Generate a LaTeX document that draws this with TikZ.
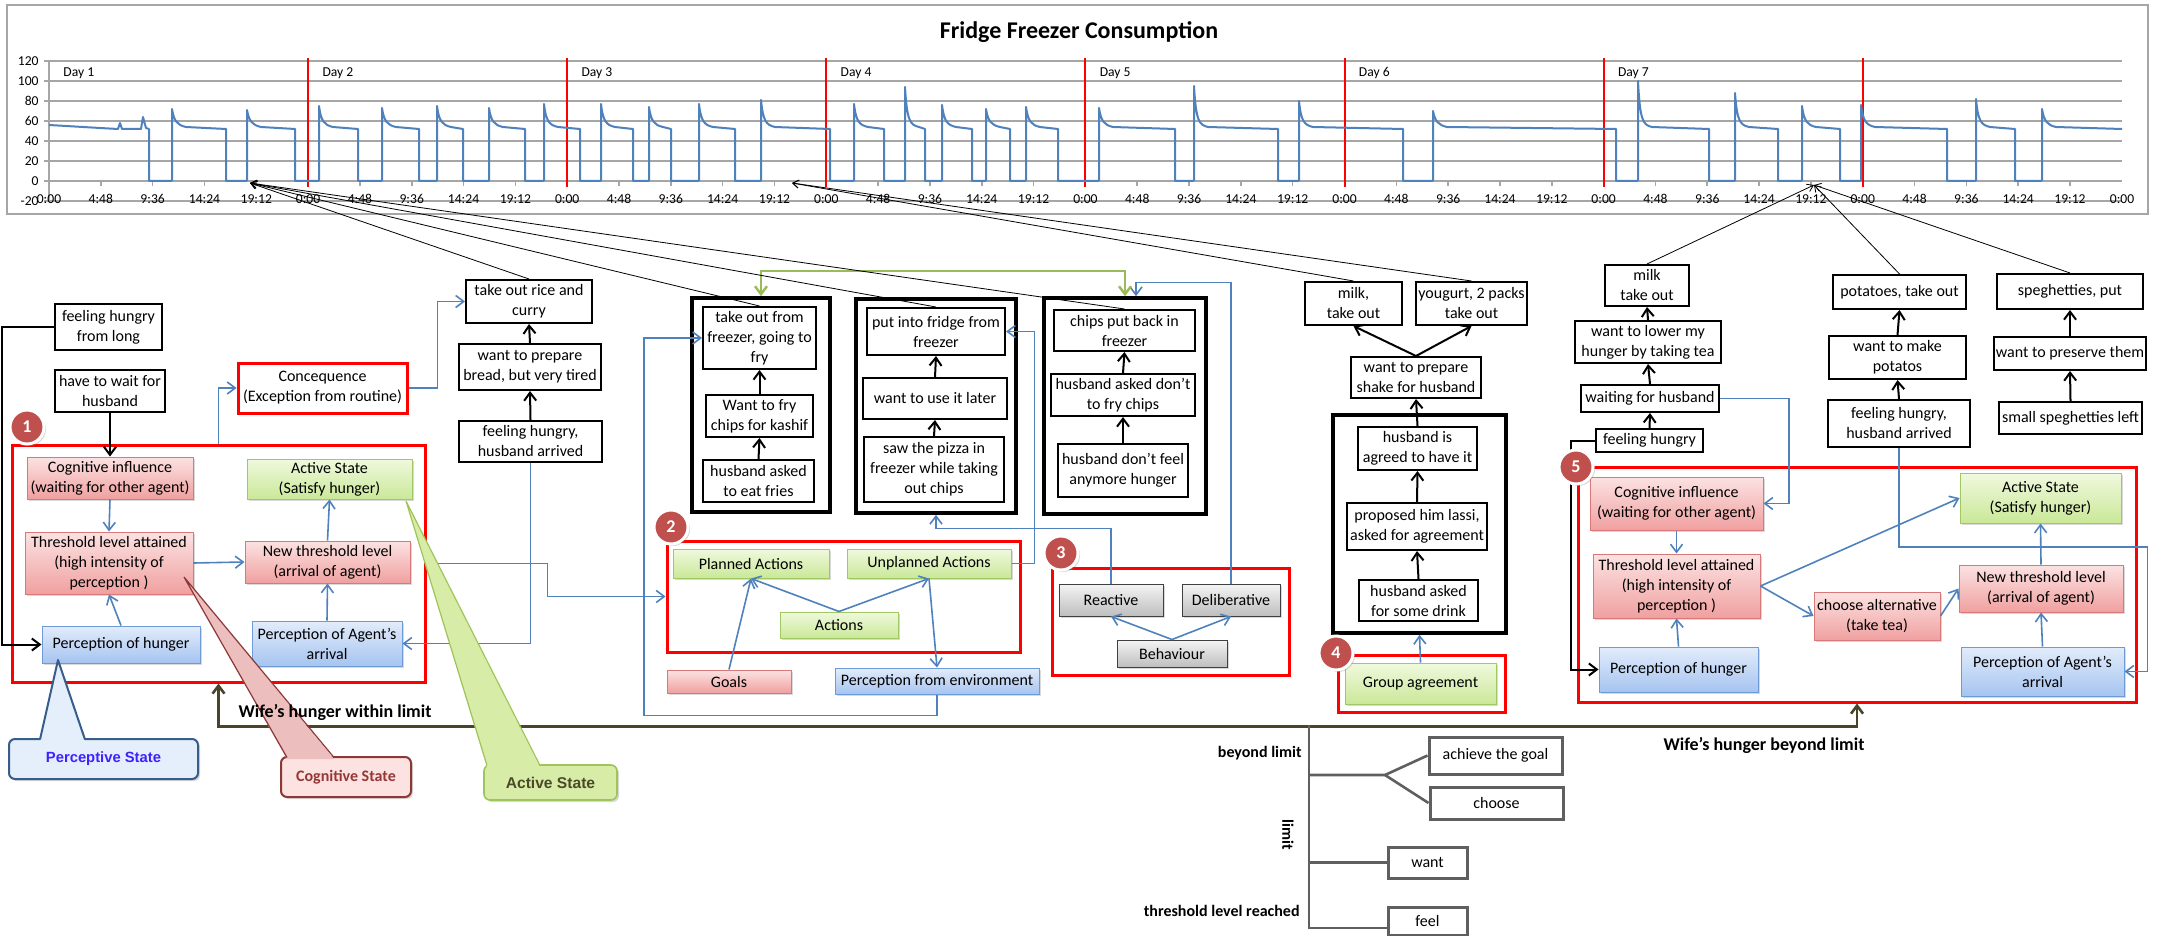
\documentclass[tikz,border=0pt]{standalone}
\usepackage{fontspec}
\setmainfont{Carlito}
\newfontfamily\arialf{Liberation Sans}
\usetikzlibrary{arrows.meta,calc,shadows}

\definecolor{lnblue}{RGB}{79,129,189}
\definecolor{plotblue}{RGB}{79,129,189}
\definecolor{gridgray}{RGB}{166,166,166}
\definecolor{badgered}{RGB}{192,80,77}
\definecolor{pinktop}{RGB}{252,226,226}
\definecolor{pinkbot}{RGB}{240,160,160}
\definecolor{pinkln}{RGB}{217,120,120}
\definecolor{greentop}{RGB}{240,249,222}
\definecolor{greenbot}{RGB}{202,232,152}
\definecolor{greenln}{RGB}{160,200,100}
\definecolor{bluetop}{RGB}{226,236,251}
\definecolor{bluebot}{RGB}{166,196,240}
\definecolor{blueln}{RGB}{110,154,214}
\definecolor{graytop}{RGB}{244,244,244}
\definecolor{graybot}{RGB}{190,190,190}
\definecolor{brownln}{RGB}{74,69,42}
\definecolor{treegray}{RGB}{95,95,95}
\definecolor{linkgreen}{RGB}{155,187,89}
\definecolor{pstfill}{RGB}{228,239,251}
\definecolor{pstline}{RGB}{56,93,138}
\definecolor{psttext}{RGB}{64,32,255}
\definecolor{cstfill}{RGB}{253,226,226}
\definecolor{cstline}{RGB}{140,56,54}
\definecolor{csttext}{RGB}{149,55,53}
\definecolor{cstptr}{RGB}{236,190,190}
\definecolor{astfill}{RGB}{215,236,166}
\definecolor{astline}{RGB}{160,196,90}
\definecolor{asttext}{RGB}{74,74,40}

\tikzset{
  wh/.style 2 args={minimum width=#1*.5pt,minimum height=#2*.5pt},
  shd/.style={drop shadow={opacity=.3,shadow xshift=1pt,shadow yshift=-1pt}},
  box/.style={draw,line width=1pt,fill=white,align=center,inner sep=1pt},
  grpbox/.style={draw,line width=1.8pt},
  redbox/.style={draw=red,line width=1.5pt},
  pinkbox/.style={draw=pinkln,line width=.5pt,top color=pinktop,bottom color=pinkbot,align=center,inner sep=1pt,shd},
  greenbox/.style={draw=greenln,line width=.5pt,top color=greentop,bottom color=greenbot,align=center,inner sep=1pt,shd},
  bluebox/.style={draw=blueln,line width=.5pt,top color=bluetop,bottom color=bluebot,align=center,inner sep=1pt,shd},
  graybox/.style={draw=black!75,line width=.5pt,top color=graytop,bottom color=graybot,align=center,inner sep=1pt,shd},
  badge/.style={circle,fill=badgered,draw=white,line width=1.5pt,text=white,font=\bfseries\fontsize{9}{10}\selectfont,minimum size=17pt,inner sep=0pt,shd},
  arr/.style={->,line width=1pt},
  bl/.style={draw=lnblue,line width=.8pt},
  ptr/.style={>={Straight Barb[length=3pt,width=4pt]},->,line width=.4pt},
  axlab/.style={font=\fontsize{6.8}{8}\selectfont,inner sep=0pt},
  loadline/.style={draw=plotblue,line width=1pt,line join=round},
  lbl/.style={font=\bfseries\fontsize{9}{11}\selectfont},
  treelbl/.style={font=\bfseries\fontsize{8}{9}\selectfont,inner sep=1pt},
  treebox/.style={draw=treegray,line width=1.5pt,fill=white,inner sep=1pt,shd},
  tree/.style={draw=treegray,line width=1.3pt},
}

\begin{document}
\begin{tikzpicture}[x=.5pt,y=-.5pt,font=\fontsize{8}{10}\selectfont,>={Straight Barb[length=4pt,width=6pt]}]
\useasboundingbox (0,0) rectangle (2161,936);

% chart
\draw[gridgray,fill=white,line width=.6pt] (7,5) rectangle (2148,214);
\node[font=\bfseries\fontsize{12}{14}\selectfont] (title) at (1079,32) {Fridge Freezer Consumption};
\foreach \v in {-20,0,...,120}{
  \draw[gridgray,line width=.8pt] (44,181-\v) -- (2122,181-\v);
  \node[axlab,anchor=east] (yl\v) at (39,181-\v) {\v};
}
\draw[gridgray,line width=.8pt] (49,61) -- (49,201);
\foreach \d in {0,...,7}{
  \foreach \k/\lab in {0/0:00,1/4:48,2/9:36,3/14:24,4/19:12}{
    \draw[gridgray,line width=.8pt] ({49+259.1*(\d+\k/5)},181) -- ++(0,5);
    \node[axlab] (xl\d\k) at ({49+259.1*(\d+\k/5)},199) {\lab};
  }
}
\node[axlab] (xlend) at (2122,199) {0:00};
\foreach \d in {1,...,7}{
  \draw[red,line width=1pt] ({49+259.1*\d},58) -- ++(0,129);
  \node[axlab,anchor=west] (day\d) at ({49+259.1*(\d-1)+14},73) {Day \d};
}
% load trace
\draw[loadline] (49,125) -- (100,128) -- (118,129) -- (120,123) -- (122,129) -- (141,129) -- (143,117) -- (146,128) -- (149,129) -- (149,181) -- (172,181);
\foreach \on/\pk/\off/\nxt in {172/72/226/247,247/71/295/319,319/75/358/382,382/73/419/437,437/75/463/489,489/73/525/544,544/77/580/601,601/77/633/649,649/74/671/699,699/77/735/761,761/81/830/854,854/77/884/905,905/94/925/942,942/76/972/986,986/72/1010/1026,1026/74/1058/1099,1099/73/1175/1194,1194/95/1278/1299,1299/80/1403/1433,1433/70/1616/1638,1638/100/1709/1735,1735/88/1778/1802,1802/75/1840/1861,1861/76/1947/1976,1976/82/2015/2042}
  \draw[loadline] (\on,181) -- (\on,181-\pk) .. controls (\on+2,121) and (\on+5,125) .. (\on+14,127) -- (\off,129) -- (\off,181) -- (\nxt,181);
\draw[loadline] (2042,181) -- (2042,109) .. controls (2044,121) and (2047,125) .. (2056,127) -- (2122,129);

% state 1
\node[redbox,wh={413}{237}] (redA) at (218.5,563.5) {};
\node[pinkbox,wh={166}{42}] (cogA) at (110,478) {Cognitive influence\\(waiting for other agent)};
\node[pinkbox,wh={168}{62}] (thrA) at (109,563) {Threshold level attained\\(high intensity of\\perception )};
\node[bluebox,wh={158}{37}] (perHunA) at (121,644.5) {Perception of hunger};
\node[greenbox,wh={165}{40}] (actA) at (329.5,479) {Active State\\(Satisfy hunger)};
\node[pinkbox,wh={165}{42}] (newThrA) at (327.5,562) {New threshold level\\(arrival of agent)};
\node[bluebox,wh={150}{45}] (perAgA) at (327,643.5) {Perception of Agent's\\arrival};
\node[box,wh={107}{46}] (hungLong) at (108.5,327) {feeling hungry\\from long};
\node[box,wh={110}{42}] (waitHus) at (110,391) {have to wait for\\husband};
\node[box,redbox,wh={169}{50}] (conseq) at (322.5,388) {Concequence\\(Exception from routine)};
\node[box,wh={126}{43}] (riceOut) at (529,301.5) {take out rice and\\curry};
\node[box,wh={142}{46}] (breadWant) at (530,367) {want to prepare\\bread, but very tired};
\node[box,wh={143}{41}] (hungArrA) at (530.5,441.5) {feeling hungry,\\husband arrived};

% actions and behaviour
\node[grpbox,wh={138}{214}] (grpA) at (761,405) {};
\node[grpbox,wh={160}{214}] (grpB) at (936,406) {};
\node[grpbox,wh={162}{216}] (grpC) at (1125,406) {};
\node[box,wh={113}{62}] (frzOut) at (759.5,338) {take out from\\freezer, going to\\fry};
\node[box,wh={107}{42}] (fryWant) at (759.5,416) {Want to fry\\chips for kashif};
\node[box,wh={111}{42}] (friesAsk) at (758.5,481) {husband asked\\to eat fries};
\node[box,wh={138}{47}] (fridgePut) at (936,331.5) {put into fridge from\\freezer};
\node[box,wh={144}{41}] (laterWant) at (935,398.5) {want to use it later};
\node[box,wh={140}{65}] (pizzaSaw) at (934,469.5) {saw the pizza in\\freezer while taking\\out chips};
\node[box,wh={141}{41}] (chipsBack) at (1124.5,330.5) {chips put back in\\freezer};
\node[box,wh={144}{42}] (chipsAsk) at (1123,395) {husband asked don't\\to fry chips};
\node[box,wh={130}{53}] (hungNo) at (1123,470.5) {husband don't feel\\anymore hunger};
\node[redbox,wh={353}{111}] (redB) at (843.5,596.5) {};
\node[greenbox,wh={156}{29}] (planAct) at (751,563.5) {Planned Actions};
\node[greenbox,wh={164}{29}] (unplanAct) at (929,563.5) {Unplanned Actions};
\node[greenbox,wh={118}{26}] (actions) at (839,625) {Actions};
\node[pinkbox,wh={124}{23}] (goals) at (729,681.5) {Goals};
\node[bluebox,wh={204}{26}] (perEnv) at (937,681) {Perception from environment};
\node[redbox,wh={237}{107}] (redC) at (1170.5,621.5) {};
\node[graybox,wh={104}{32}] (reactive) at (1111,600) {Reactive};
\node[graybox,wh={98}{32}] (deliber) at (1231,600) {Deliberative};
\node[graybox,wh={110}{27}] (behav) at (1172,653.5) {Behaviour};

% group agreement
\node[box,wh={97}{43}] (milkA) at (1353.5,303.5) {milk,\\take out};
\node[box,wh={109}{43}] (yogurt) at (1471.5,303.5) {yougurt, 2 packs\\take out};
\node[box,wh={130}{41}] (shakeWant) at (1416,377.5) {want to prepare\\shake for husband};
\node[grpbox,wh={173}{218}] (grpD) at (1419.5,524) {};
\node[box,wh={119}{43}] (agreed) at (1417.5,448.5) {husband is\\agreed to have it};
\node[box,wh={140}{47}] (lassi) at (1417,526.5) {proposed him lassi,\\asked for agreement};
\node[box,wh={119}{41}] (drinkAsk) at (1418.5,600.5) {husband asked\\for some drink};
\node[redbox,wh={167}{57}] (redD) at (1421.5,683.5) {};
\node[greenbox,wh={151}{41}] (grpAgr) at (1420.5,683.5) {Group agreement};

% state 5
\node[box,wh={84}{41}] (milkB) at (1647,285.5) {milk\\take out};
\node[box,wh={146}{42}] (teaWant) at (1648,342) {want to lower my\\hunger by taking tea};
\node[box,wh={138}{27}] (waitB) at (1650,398.5) {waiting for husband};
\node[box,wh={107}{23}] (hungB) at (1649.5,440.5) {feeling hungry};
\node[box,wh={133}{34}] (potOut) at (1899.5,292) {potatoes, take out};
\node[box,wh={137}{43}] (potWant) at (1897.5,357.5) {want to make\\potatos};
\node[box,wh={142}{47}] (hungArrB) at (1899,423.5) {feeling hungry,\\husband arrived};
\node[box,wh={146}{35}] (spagPut) at (2070,291.5) {speghetties, put};
\node[box,wh={150}{33}] (spagWant) at (2070,353.5) {want to preserve them};
\node[box,wh={143}{32}] (spagLeft) at (2070.5,418) {small speghetties left};
\node[redbox,wh={558}{235}] (redE) at (1857,584.5) {};
\node[pinkbox,wh={173}{53}] (cogB) at (1676.5,503.5) {Cognitive influence\\(waiting for other agent)};
\node[pinkbox,wh={167}{64}] (thrB) at (1676.5,586) {Threshold level attained\\(high intensity of\\perception )};
\node[bluebox,wh={159}{45}] (perHunB) at (1678.5,669.5) {Perception of hunger};
\node[pinkbox,wh={126}{48}] (altB) at (1877,616) {choose alternative\\(take tea)};
\node[greenbox,wh={161}{50}] (actB) at (2040.5,498) {Active State\\(Satisfy hunger)};
\node[pinkbox,wh={164}{47}] (newThrB) at (2041,588.5) {New threshold level\\(arrival of agent)};
\node[bluebox,wh={163}{49}] (perAgB) at (2042.5,671.5) {Perception of Agent's\\arrival};

% black arrows
\foreach \a/\b in {breadWant/riceOut,hungArrA/breadWant,fryWant/frzOut,friesAsk/fryWant,laterWant/fridgePut,pizzaSaw/laterWant,chipsAsk/chipsBack,hungNo/chipsAsk,drinkAsk/lassi,lassi/agreed,agreed/shakeWant,hungB/waitB,waitB/teaWant,teaWant/milkB,hungArrB/potWant,potWant/potOut,spagLeft/spagWant,spagWant/spagPut}
  \draw[arr] (\a.north) -- (\b.south);
\draw[arr] (waitHus.south) -- (cogA.north);
\draw[arr] (shakeWant.north) -- (milkA.south);
\draw[arr] (shakeWant.north) -- (yogurt.south);
\draw[arr] (hungLong.west) -- ++(-52,0) |- (perHunA.west);
\draw[arr] (hungB.west) -- ++(-24,0) |- (perHunB.west);

% blue links
\draw[bl,->] (redA.north) |- (conseq.west);
\draw[bl,->] (conseq.east) -- ++(29,0) |- (riceOut.west);
\draw[bl,->] (hungArrA.south) |- (perAgA.east);
\draw[bl,->] (redA.east) -- ++(121,0) |- (redB.west);
\draw[bl,->] (cogA.south) -- (thrA.north);
\draw[bl,->] (perHunA.north) -- (thrA.south);
\draw[bl,->] (thrA.east) -- (newThrA.west);
\draw[bl,->] (perAgA.north) -- (newThrA.south);
\draw[bl,->] (newThrA.north) -- (actA.south);
\draw[bl,->] (actions.north) -- (planAct.south);
\draw[bl,->] (actions.north) -- (unplanAct.south);
\draw[bl,->] (goals.north) -- (planAct.south);
\draw[bl,->] (unplanAct.south) -- (perEnv.north);
\draw[bl,<-] (frzOut.west) -- ++(-58,0) |- ($(perEnv.south)+(0,21)$) -- (perEnv.south);
\draw[bl,->] (unplanAct.east) -- ++(23,0) |- (fridgePut.east);
\draw[bl,->] (reactive.north) -- ++(0,-55) -| (grpB.south);
\draw[bl,->] (deliber.north) -- ++(0,-301) -| ($(grpC.north)+(11,0)$);
\draw[linkgreen,line width=1.2pt,<->] (grpA.north) -- ++(0,-25) -| (grpC.north);
\draw[bl,->] (behav.north) -- (reactive.south);
\draw[bl,->] (behav.north) -- (deliber.south);
\draw[bl,->] (grpAgr.north) -- (grpD.south);
\draw[bl,->] (waitB.east) -- ++(69,0) |- (cogB.east);
\draw[bl,->] (hungArrB.south) |- ($(perAgB.east)+(23,-124.5)$) |- (perAgB.east);
\draw[bl,->] (cogB.south) -- (thrB.north);
\draw[bl,->] (perHunB.north) -- (thrB.south);
\draw[bl,->] (thrB.east) -- (actB.west);
\draw[bl,->] (thrB.east) -- (altB.west);
\draw[bl,->] (altB.east) -- (newThrB.west);
\draw[bl,->] (newThrB.north) -- (actB.south);
\draw[bl,->] (perAgB.north) -- (newThrB.south);

% hunger limit line
\draw[brownln,line width=1.3pt,<->] (redA.south) -- ++(0,43) -| (redE.south);

% limit tree
\coordinate (trTop) at (1309,725);
\coordinate (trBot) at (1309,928);
\coordinate (fork) at (1385,775);
\node[treebox,wh={133}{37}] (goalAch) at (1495.5,755.5) {achieve the goal};
\node[treebox,wh={133}{32}] (choose) at (1496.5,803) {choose};
\node[treebox,wh={79}{31}] (want) at (1427.5,862.5) {want};
\node[treebox,wh={79}{28}] (feel) at (1427.5,921) {feel};
\draw[tree] (trTop) -- (trBot) -- (trBot -| feel.west);
\draw[tree] (trTop |- fork) -- (fork) -- (goalAch.west);
\draw[tree] (fork) -- (choose.west);
\draw[tree] (trTop |- want.west) -- (want.west);
\node[treelbl,anchor=east] (lbBeyond) at (1304,753) {beyond limit};
\node[treelbl,rotate=-90] (lbLimit) at (1288,835) {limit};
\node[treelbl,anchor=east] (lbThr) at (1302,911) {threshold level reached};

% callouts
\node[draw=pstline,line width=1pt,fill=pstfill,rounded corners=3pt,wh={189}{40},text=psttext,font=\arialf\bfseries\fontsize{7.4}{9}\selectfont,shd] (perState) at (103.5,759) {Perceptive State};
\fill[pstfill] (40,741) -- (58,660) -- (85,741) -- cycle;
\draw[pstline,line width=1pt,line join=round] (40,739.5) -- (58,660) -- (85,739.5);
\node[draw=cstline,line width=1pt,fill=cstfill,rounded corners=3pt,wh={130}{40},text=csttext,font=\bfseries\fontsize{8}{9}\selectfont,shd] (cogState) at (346,777) {Cognitive State};
\fill[cstptr] (287,759) -- (184,577) -- (334,759) -- cycle;
\draw[cstline,line width=.6pt] (287,757.5) -- (184,577) -- (334,757.5);
\node[draw=astline,line width=.8pt,fill=astfill,rounded corners=3pt,wh={133}{35},text=asttext,font=\arialf\bfseries\fontsize{7.8}{9}\selectfont,shd] (actState) at (550.5,782.5) {Active State};
\fill[astfill] (487,767) -- (406,501) -- (540,767) -- cycle;
\draw[astline,line width=.6pt] (487,765.5) -- (406,501) -- (540,765.5);

\node[lbl] (withinLbl) at (335,712) {Wife's hunger within limit};
\node[lbl] (beyondLbl) at (1764,745) {Wife's hunger beyond limit};

% badges
\node[badge] (b1) at (27,427) {1};
\node[badge] (b2) at (671,527) {2};
\node[badge] (b3) at (1061,553) {3};
\node[badge] (b4) at (1336,653) {4};
\node[badge] (b5) at (1576,467) {5};

% links to the chart
\coordinate (tipA) at (250,183);
\coordinate (tipB) at (792,183);
\coordinate (tipC) at (1814,185);
\foreach \n in {riceOut,frzOut,fridgePut,chipsBack} \draw[ptr] (\n.north) -- (tipA);
\foreach \n in {milkA,yogurt} \draw[ptr] (\n.north) -- (tipB);
\foreach \n in {milkB,potOut,spagPut} \draw[ptr] (\n.north) -- (tipC);
\end{tikzpicture}
\end{document}
